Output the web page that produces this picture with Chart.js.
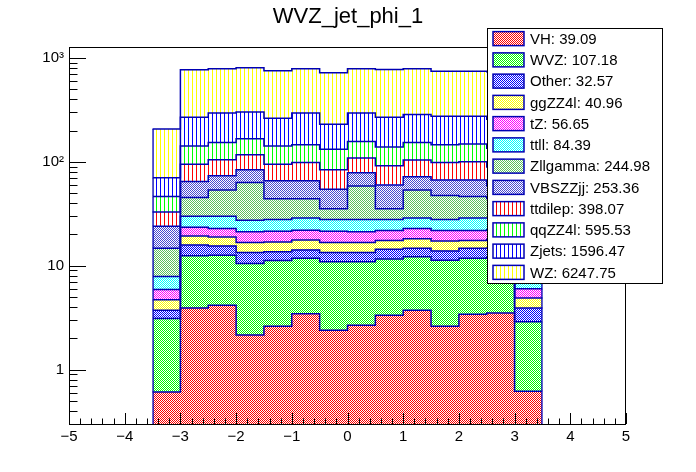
<!DOCTYPE html>
<html>
<head>
<meta charset="utf-8">
<script src="https://cdn.jsdelivr.net/npm/chart.js@4.4.1/dist/chart.umd.min.js"></script>
<style>
  body { margin: 0; background: #fff; }
  #wrap { width: 696px; height: 472px; }
</style>
</head>
<body>
<div id="wrap"><canvas id="grafico"></canvas></div>
<script>
const titulo = 'WVZ_jet_phi_1';

// bin edges of the histogram (x), bins are 0.5 wide
const binEdges = [-3.5, -3, -2.5, -2, -1.5, -1, -0.5, 0, 0.5, 1, 1.5, 2, 2.5, 3, 3.5];

// samples, bottom of the stack first
const sampleNames = ['VH', 'WVZ', 'Other', 'ggZZ4l', 'tZ', 'ttll', 'Zllgamma', 'VBSZZjj', 'ttdilep', 'qqZZ4l', 'Zjets', 'WZ'];
const sampleTotals = [39.09, 107.18, 32.57, 40.96, 56.65, 84.39, 244.98, 253.36, 398.07, 595.53, 1596.47, 6247.75];

// events per bin for each sample
const VH       = [0.61, 3.92, 4.16, 2.15, 2.62, 3.46, 2.40, 2.68, 3.34, 3.73, 2.62, 3.41, 3.51, 0.62];
const WVZ      = [2.49, 8.53, 8.44, 8.35, 8.58, 8.34, 8.50, 8.22, 8.26, 8.47, 8.68, 8.39, 8.50, 2.27];
const Other    = [0.63, 3.35, 2.90, 2.90, 2.40, 2.40, 2.50, 2.50, 2.80, 2.50, 2.60, 2.90, 2.80, 1.03];
const ggZZ4l   = [0.97, 3.50, 3.40, 3.30, 3.30, 3.50, 3.30, 3.30, 3.10, 3.50, 3.40, 2.80, 3.20, 0.96];
const tZ       = [1.21, 4.20, 3.90, 4.50, 4.60, 4.30, 4.80, 4.50, 4.30, 4.60, 4.50, 4.30, 4.30, 1.11];
const ttll     = [1.95, 6.40, 7.10, 6.20, 6.30, 6.80, 6.30, 6.60, 6.00, 6.00, 6.00, 7.00, 6.50, 2.00];
const Zllgamma = [6.84, 15.5, 23.8, 35.7, 16.2, 15.2, 7.60, 30.8, 7.60, 24.9, 19.7, 17.6, 15.5, 7.20];
const VBSZZjj  = [9.30, 19.1, 19.9, 20.8, 21.9, 21.9, 19.1, 20.0, 24.4, 18.2, 19.3, 20.4, 15.0, 8.00];
const ttdilep  = [8.90, 30.3, 30.9, 33.1, 28.9, 32.6, 29.4, 30.4, 31.8, 32.1, 31.7, 33.2, 30.0, 9.00];
const qqZZ4l   = [13.5, 47.2, 48.5, 50.0, 47.2, 47.5, 48.1, 48.0, 47.4, 49.0, 47.5, 48.0, 46.0, 13.0];
const Zjets    = [24.0, 126, 142, 134, 120, 149, 98, 138, 129, 133, 128, 126, 122, 25.0];
const WZ       = [137, 501, 490, 502, 490, 490, 489, 490, 506, 499, 471, 471, 480, 138];

const amostras = [VH, WVZ, Other, ggZZ4l, tZ, ttll, Zllgamma, VBSZZjj, ttdilep, qqZZ4l, Zjets, WZ];

// axis ticks
const xTicks = [-5, -4, -3, -2, -1, 0, 1, 2, 3, 4, 5];
const yTicks = [1, 10, 100, 1000];
const yTickLabels = ['1', '10', '10\u00B2', '10\u00B3'];

const fonte = "'Liberation Sans', Arial, Helvetica, sans-serif";
const contorno = '#0000b4';

function xadrez(cor) {
    const c = document.createElement('canvas');
    c.width = 2; c.height = 2;
    const g = c.getContext('2d');
    g.fillStyle = '#fff';
    g.fillRect(0, 0, 2, 2);
    g.fillStyle = cor;
    g.fillRect(0, 0, 1, 1);
    g.fillRect(1, 1, 1, 1);
    return g.createPattern(c, 'repeat');
}

function listras(cor) {
    const c = document.createElement('canvas');
    c.width = 4; c.height = 1;
    const g = c.getContext('2d');
    g.fillStyle = '#fff';
    g.fillRect(0, 0, 4, 1);
    g.fillStyle = cor;
    g.fillRect(0, 0, 1, 1);
    return g.createPattern(c, 'repeat');
}

const preenchimentos = [
    xadrez('#ff0000'),
    xadrez('#00ff00'),
    xadrez('#0000ff'),
    xadrez('#ffff00'),
    xadrez('#ff00ff'),
    xadrez('#00ffff'),
    xadrez('#5cc05c'),
    xadrez('#4848d0'),
    listras('#ff0000'),
    listras('#00ff00'),
    listras('#0000ff'),
    listras('#ffff00')
];

const centros = binEdges.slice(0, -1).map((e, i) => (e + binEdges[i + 1]) / 2);
const ultimo = centros.length - 1;

const barras = amostras.map((valores, i) => ({
    type: 'bar',
    label: sampleNames[i],
    data: centros.map((x, j) => ({ x: x, y: valores[j] })),
    backgroundColor: preenchimentos[i],
    borderColor: contorno,
    borderWidth: ctx => ctx.dataIndex === 0 ? { left: 1.5, top: 0, right: 0, bottom: 0 }
        : ctx.dataIndex === ultimo ? { right: 1.5, top: 0, left: 0, bottom: 0 } : 0,
    borderSkipped: false,
    barPercentage: 1,
    categoryPercentage: 1,
    order: 1
}));

// step outlines, stacked the same way as the bars
const linhas = amostras.map((valores, i) => ({
    type: 'line',
    label: sampleNames[i] + ' contorno',
    data: binEdges.map((x, j) => ({ x: x, y: valores[Math.min(j, ultimo)] })),
    stepped: true,
    borderColor: contorno,
    borderWidth: 1.5,
    pointRadius: 0,
    fill: false,
    order: 0
}));

const moldura = {
    id: 'moldura',
    afterDraw(chart) {
        const ctx = chart.ctx;
        const a = chart.chartArea;
        const xs = chart.scales.x;
        const ys = chart.scales.y;
        ctx.save();
        ctx.strokeStyle = '#000';
        ctx.lineWidth = 1;
        ctx.strokeRect(a.left + 0.5, a.top + 0.5, a.right - a.left - 1, a.bottom - a.top);

        ctx.beginPath();
        for (let k = 0; k <= 50; k++) {
            const v = -5 + k * 0.2;
            const px = Math.round(xs.getPixelForValue(v)) + 0.5;
            const len = k % 5 === 0 ? 11 : 5.5;
            ctx.moveTo(px, a.bottom);
            ctx.lineTo(px, a.bottom - len);
        }
        for (let d = -1; d <= 3; d++) {
            for (let m = 1; m <= 9; m++) {
                const v = m * Math.pow(10, d);
                if (v < ys.min || v > ys.max) continue;
                const py = Math.round(ys.getPixelForValue(v)) + 0.5;
                const len = m === 1 ? 17 : 8.5;
                ctx.moveTo(a.left, py);
                ctx.lineTo(a.left + len, py);
            }
        }
        ctx.stroke();

        ctx.fillStyle = '#000';
        ctx.font = '22px ' + fonte;
        ctx.textAlign = 'center';
        ctx.textBaseline = 'alphabetic';
        ctx.fillText(titulo, 348, 23);

        // legend box
        const lx = 487, ly = 28, lw = 175, lh = 255;
        ctx.fillStyle = '#fff';
        ctx.fillRect(lx, ly, lw, lh);
        ctx.strokeStyle = '#000';
        ctx.strokeRect(lx + 0.5, ly + 0.5, lw, lh);
        const passo = lh / sampleNames.length;
        ctx.font = '15px ' + fonte;
        ctx.textAlign = 'left';
        ctx.textBaseline = 'middle';
        sampleNames.forEach((nome, i) => {
            const cy = ly + passo * (i + 0.5);
            ctx.fillStyle = preenchimentos[i];
            ctx.fillRect(493, cy - 7, 31, 14);
            ctx.strokeStyle = contorno;
            ctx.lineWidth = 1.5;
            ctx.strokeRect(493, cy - 7, 31, 14);
            ctx.fillStyle = '#000';
            ctx.fillText(nome + ': ' + sampleTotals[i].toFixed(2), 530, cy + 1);
        });
        ctx.restore();
    }
};

new Chart(document.getElementById('grafico'), {
    type: 'bar',
    data: { datasets: [...barras, ...linhas] },
    options: {
        responsive: true,
        maintainAspectRatio: false,
        devicePixelRatio: 1,
        animation: false,
        layout: { padding: { top: 47, right: 70, left: 0, bottom: 0 } },
        plugins: {
            legend: { display: false },
            tooltip: { enabled: false },
            title: { display: false }
        },
        scales: {
            x: {
                type: 'linear',
                min: -5,
                max: 5,
                offset: false,
                stacked: true,
                grid: { display: false, drawTicks: false },
                border: { display: false },
                afterBuildTicks: s => { s.ticks = xTicks.map(v => ({ value: v })); },
                afterFit: s => { s.height = 48; },
                ticks: {
                    padding: 4,
                    color: '#000',
                    font: { family: fonte, size: 15 },
                    maxRotation: 0,
                    autoSkip: false,
                    callback: v => v < 0 ? '\u2212' + Math.abs(v) : String(v)
                }
            },
            y: {
                type: 'logarithmic',
                min: 0.329,
                max: 1273,
                stacked: true,
                grid: { display: false, drawTicks: false },
                border: { display: false },
                afterBuildTicks: s => { s.ticks = yTicks.map(v => ({ value: v })); },
                afterFit: s => { s.width = 69; },
                ticks: {
                    padding: 5,
                    color: '#000',
                    font: { family: fonte, size: 15 },
                    autoSkip: false,
                    callback: (v, i) => yTickLabels[i]
                }
            }
        }
    },
    plugins: [moldura]
});
</script>
</body>
</html>
